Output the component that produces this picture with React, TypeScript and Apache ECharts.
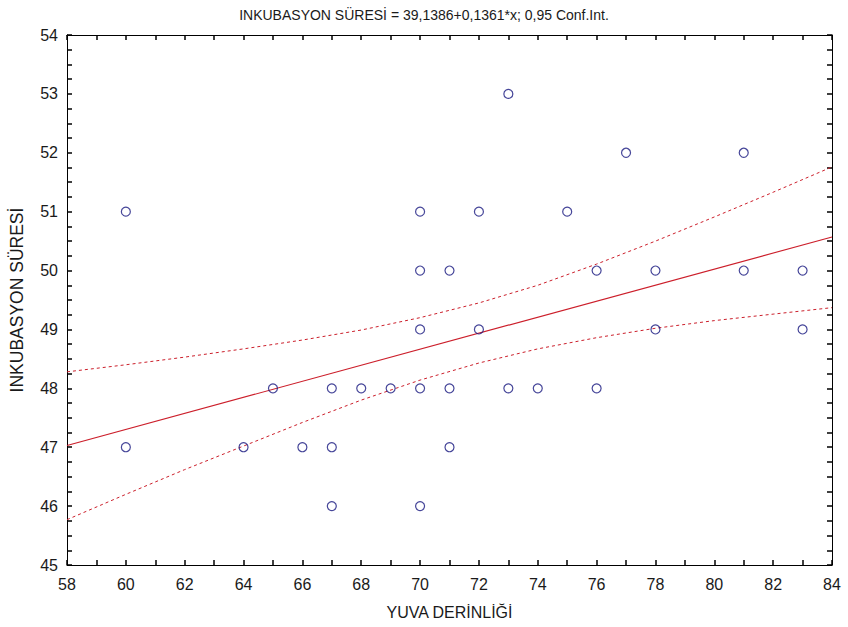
import React, { useEffect, useRef } from "react";
import * as echarts from "echarts";

// Scatter data: YUVA DERİNLİĞİ (x) vs INKUBASYON SÜRESİ (y)
const depth = [60, 60, 64, 65, 66, 67, 67, 67, 68, 69, 70, 70, 70, 70, 70, 71, 71, 71, 72, 72, 73, 73, 74, 75, 76, 76, 77, 78, 78, 81, 81, 83, 83];
const incubation = [51, 47, 47, 48, 47, 48, 47, 46, 48, 48, 51, 50, 49, 48, 46, 50, 48, 47, 51, 49, 53, 48, 48, 51, 50, 48, 52, 50, 49, 52, 50, 50, 49];

// Regression line end points
const fitX = [58, 84];
const fitY = [47.03, 50.57];

// 0.95 confidence band
const bandX = [58, 60, 62, 64, 66, 68, 70, 72, 74, 76, 78, 80, 82, 84];
const bandUpper = [48.28, 48.4, 48.53, 48.67, 48.82, 48.99, 49.2, 49.45, 49.75, 50.11, 50.5, 50.91, 51.33, 51.76];
const bandLower = [45.77, 46.2, 46.62, 47.02, 47.42, 47.8, 48.14, 48.43, 48.67, 48.86, 49.02, 49.15, 49.26, 49.37];

const X_MIN = 58;
const X_MAX = 84;
const Y_MIN = 45;
const Y_MAX = 54;

const titleText = "INKUBASYON SÜRESİ = 39,1386+0,1361*x; 0,95 Conf.Int.";
const xName = "YUVA DERİNLİĞİ";
const yName = "INKUBASYON SÜRESİ";

const FONT = "'Liberation Sans', Arial, sans-serif";
const TEXT = "#1a1a1a";
const RED = "#cc1f2b";
const BLUE = "#181880";

export default function App() {
  const ref = useRef<HTMLDivElement>(null);

  useEffect(() => {
    if (!ref.current) return;
    const chart = echarts.init(ref.current, undefined, { renderer: "svg" });

    const line = () => ({ show: true, onZero: false, lineStyle: { color: "#000", width: 1 } });
    const tick = () => ({ show: true, inside: true, length: 5, lineStyle: { color: "#000", width: 1.5 } });
    const minor = (n: number) => ({ show: true, splitNumber: n, length: 5, lineStyle: { color: "#000", width: 1.5 } });

    chart.setOption({
      animation: false,
      backgroundColor: "#fff",
      textStyle: { fontFamily: FONT },
      title: {
        text: titleText,
        left: "center",
        top: 3,
        textStyle: { fontFamily: FONT, fontSize: 14, fontWeight: "normal", color: TEXT },
      },
      grid: { left: 65, right: 16, top: 35, bottom: 62 },
      xAxis: [
        {
          type: "value",
          min: X_MIN,
          max: X_MAX,
          interval: 2,
          axisLine: line(),
          axisTick: tick(),
          minorTick: minor(2),
          splitLine: { show: false },
          axisLabel: { fontFamily: FONT, fontSize: 16, color: TEXT, margin: 11 },
          name: xName,
          nameLocation: "middle",
          nameGap: 39,
          nameTextStyle: { fontFamily: FONT, fontSize: 16, color: TEXT },
        },
        {
          type: "value",
          position: "top",
          min: X_MIN,
          max: X_MAX,
          interval: 2,
          axisLine: line(),
          axisTick: tick(),
          minorTick: minor(2),
          splitLine: { show: false },
          axisLabel: { show: false },
        },
      ],
      yAxis: [
        {
          type: "value",
          min: Y_MIN,
          max: Y_MAX,
          interval: 1,
          axisLine: line(),
          axisTick: tick(),
          minorTick: minor(4),
          splitLine: { show: false },
          axisLabel: { fontFamily: FONT, fontSize: 16, color: TEXT, margin: 9 },
          name: yName,
          nameLocation: "middle",
          nameGap: 41,
          nameTextStyle: { fontFamily: FONT, fontSize: 17.5, color: TEXT },
        },
        {
          type: "value",
          position: "right",
          min: Y_MIN,
          max: Y_MAX,
          interval: 1,
          axisLine: line(),
          axisTick: tick(),
          minorTick: minor(4),
          splitLine: { show: false },
          axisLabel: { show: false },
        },
      ],
      series: [
        {
          type: "line",
          data: bandX.map((x, i) => [x, bandUpper[i]]),
          symbol: "none",
          lineStyle: { color: RED, width: 1, type: [3, 3] },
          z: 2,
        },
        {
          type: "line",
          data: bandX.map((x, i) => [x, bandLower[i]]),
          symbol: "none",
          lineStyle: { color: RED, width: 1, type: [3, 3] },
          z: 2,
        },
        {
          type: "line",
          data: fitX.map((x, i) => [x, fitY[i]]),
          symbol: "none",
          lineStyle: { color: RED, width: 1.2 },
          z: 2,
        },
        {
          type: "scatter",
          data: depth.map((x, i) => [x, incubation[i]]),
          symbol: "circle",
          symbolSize: 9,
          itemStyle: { color: "rgba(255,255,255,0)", borderColor: BLUE, borderWidth: 1.2 },
          z: 3,
        },
      ],
    });

    return () => chart.dispose();
  }, []);

  return (
    <div
      ref={ref}
      style={{ position: "absolute", left: 0, top: 0, width: 848, height: 627 }}
    />
  );
}
